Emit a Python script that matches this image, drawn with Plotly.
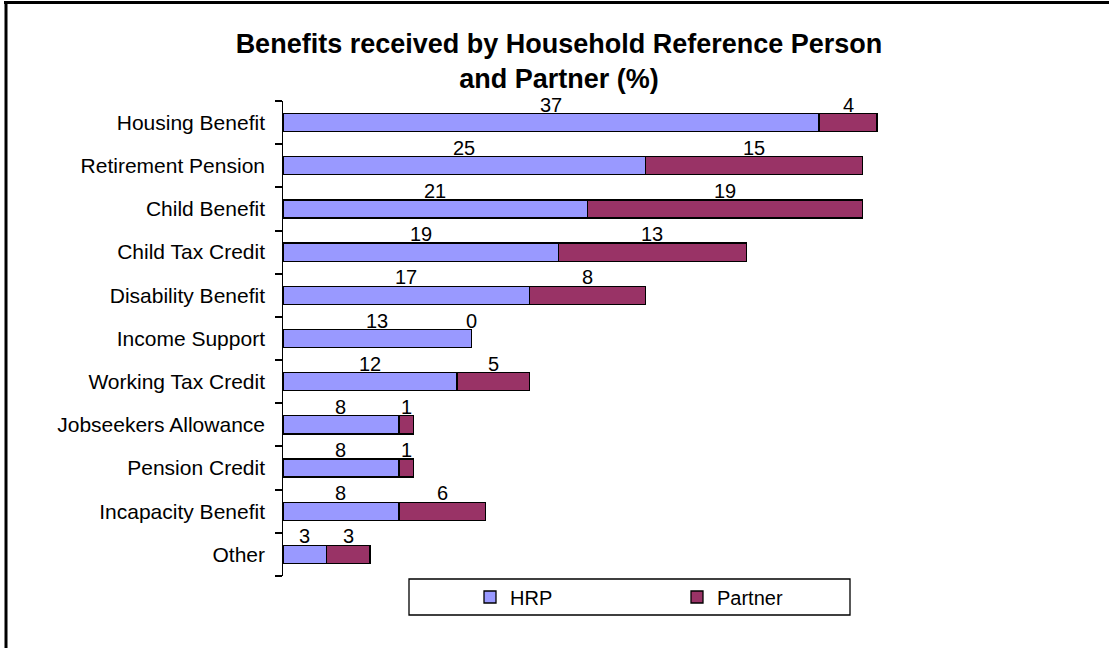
import plotly.graph_objects as go

categories = ["Housing Benefit", "Retirement Pension", "Child Benefit", "Child Tax Credit",
              "Disability Benefit", "Income Support", "Working Tax Credit",
              "Jobseekers Allowance", "Pension Credit", "Incapacity Benefit", "Other"]
hrp = [37, 25, 21, 19, 17, 13, 12, 8, 8, 8, 3]
partner = [4, 15, 19, 13, 8, 0, 5, 1, 1, 6, 3]

W, H = 1109, 648
ML, MR, MT, MB = 283, 174, 101, 72
PW, PH = W - ML - MR, H - MT - MB

def px(x):
    return (x - ML) / PW

def py(y):
    return (H - MB - y) / PH

FONT = "Liberation Sans, Arial, sans-serif"
pos = list(range(len(categories)))
yrange = [len(categories) - 0.5, -0.5]

fig = go.Figure()
fig.add_trace(go.Bar(y=pos, x=hrp, name="HRP", orientation="h", width=0.42,
                     marker=dict(color="#9999FF", line=dict(color="black", width=1.3))))
fig.add_trace(go.Bar(y=pos, x=partner, name="Partner", orientation="h", width=0.42,
                     marker=dict(color="#993366", line=dict(color="black", width=1.3))))
# helper trace so the tick-mark axis (category boundaries) is drawn
fig.add_trace(go.Scatter(x=[None], y=[None], yaxis="y2", mode="markers",
                         showlegend=False, hoverinfo="skip"))

ann = []
for p, a, b in zip(pos, hrp, partner):
    ann.append(dict(x=a / 2, y=p, text=str(a), showarrow=False, yshift=18,
                    font=dict(size=20, color="black", family=FONT)))
    ann.append(dict(x=a + b / 2, y=p, text=str(b), showarrow=False, yshift=18,
                    font=dict(size=20, color="black", family=FONT)))

fig.update_layout(
    width=W, height=H,
    margin=dict(l=ML, r=MR, t=MT, b=MB, pad=0),
    paper_bgcolor="white", plot_bgcolor="white",
    barmode="stack",
    font=dict(family=FONT, size=20, color="black"),
    title=dict(text="<b>Benefits received by Household Reference Person<br>and Partner (%)</b>",
               x=559 / W, xref="container", xanchor="center", y=1 - 53 / H, yanchor="top",
               font=dict(size=27, family=FONT, color="black")),
    xaxis=dict(range=[0, 45], visible=False, fixedrange=True),
    yaxis=dict(range=yrange, showline=False, tickmode="array", tickvals=pos,
               ticktext=categories, ticks="", ticklabelstandoff=17, showgrid=False,
               zeroline=False, tickfont=dict(size=21, family=FONT, color="black")),
    yaxis2=dict(range=yrange, overlaying="y", side="left", showline=True,
                linecolor="black", linewidth=1.4, tickmode="linear", tick0=-0.5, dtick=1,
                ticks="outside", ticklen=7, tickcolor="black", tickwidth=1.6,
                showticklabels=False, showgrid=False, zeroline=False),
    showlegend=True,
    legend=dict(orientation="h", x=px(470), y=py(597), xanchor="left", yanchor="middle",
                entrywidth=162, entrywidthmode="pixels", bgcolor="rgba(0,0,0,0)",
                font=dict(size=20, family=FONT, color="black"), traceorder="normal",
                itemclick=False),
    annotations=ann,
    shapes=[
        dict(type="rect", xref="paper", yref="paper", x0=px(409), x1=px(850),
             y0=py(579), y1=py(615), line=dict(color="black", width=1.3)),
        dict(type="line", xref="paper", yref="paper", x0=px(6), x1=px(6),
             y0=py(2), y1=py(660), line=dict(color="black", width=3)),
        dict(type="line", xref="paper", yref="paper", x0=px(4), x1=px(1120),
             y0=py(2.5), y1=py(2.5), line=dict(color="black", width=3)),
    ],
)

fig.write_html("out.html")
